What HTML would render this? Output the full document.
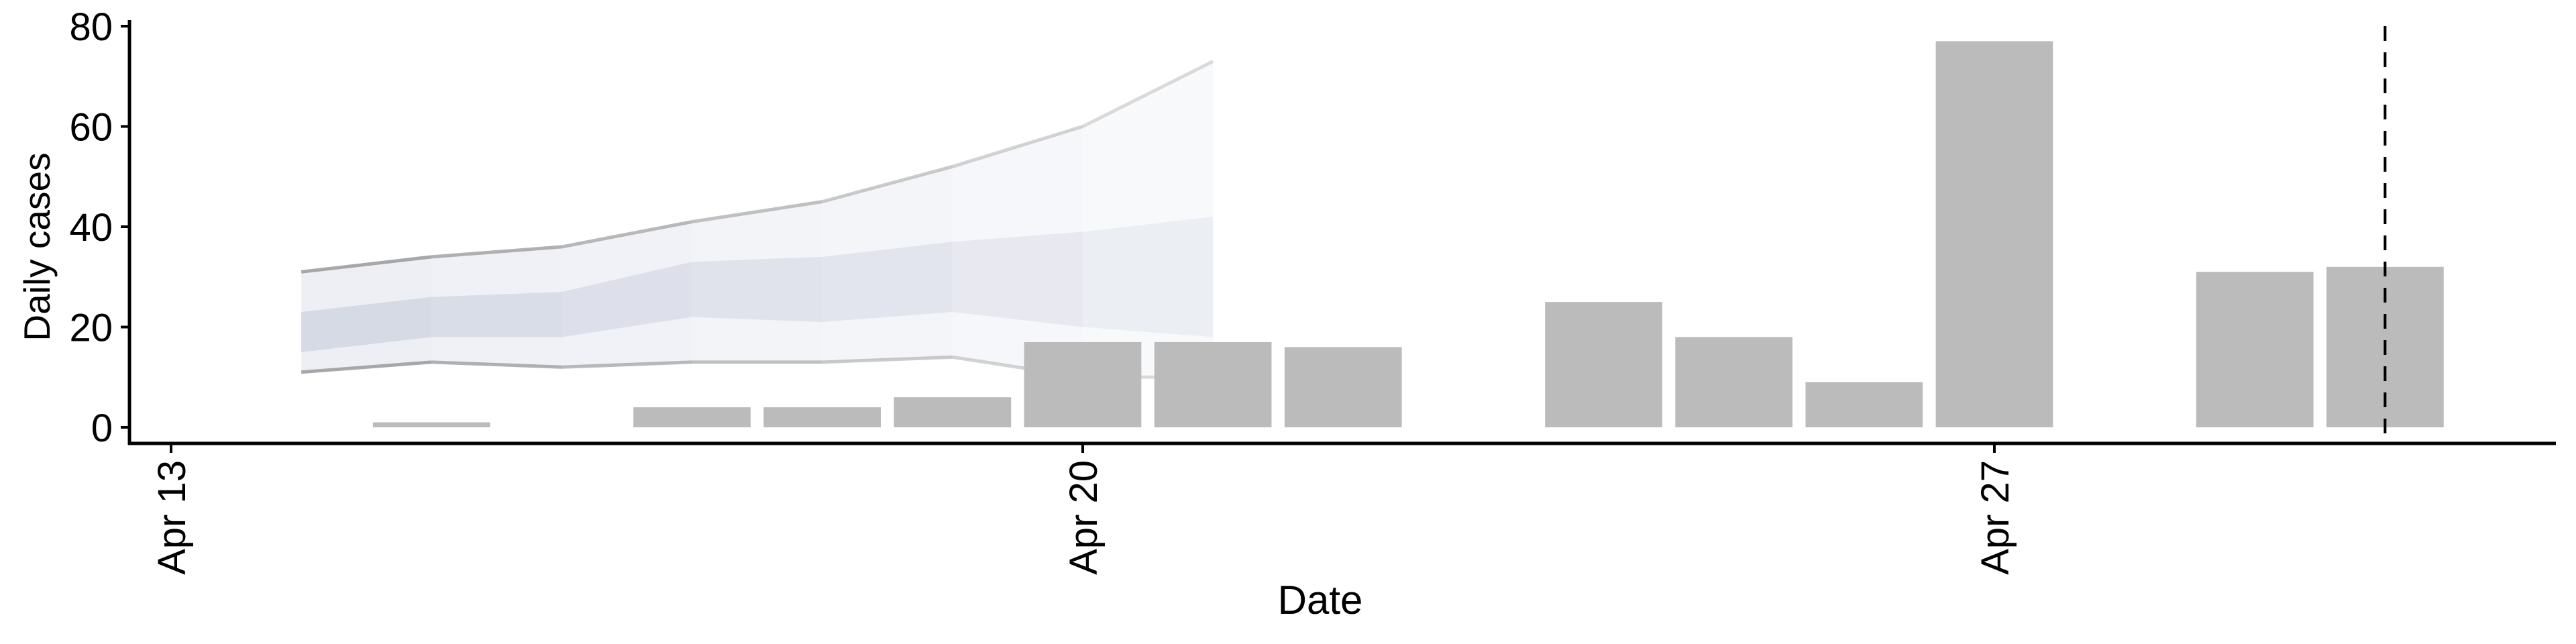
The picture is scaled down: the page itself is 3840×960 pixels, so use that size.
<!DOCTYPE html>
<html><head><meta charset="utf-8"><style>
body{margin:0;background:#fff;}
svg{display:block;font-family:"Liberation Sans",sans-serif;}
</style></head><body>
<svg id="chart" width="3840" height="960" viewBox="0 0 3840 960" xmlns="http://www.w3.org/2000/svg"></svg>
<script>
const barDays = [15,17,18,19,20,21,22,24,25,26,27,29,30];
const barValues = [1,4,4,6,17,17,16,25,18,9,77,31,32];
const bandDays = [14,15,16,17,18,19,20,21];
const outerUpper = [31,34,36,41,45,52,60,73];
const outerLower = [11,13,12,13,13,14,10,10];
const innerUpper = [23,26,27,33,34,37,39,42];
const innerLower = [15,18,18,22,21,23,20,18];
const yTicks = [0,20,40,60,80];
const xTickDays = [13,20,27];
const xTickLabels = ["Apr 13","Apr 20","Apr 27"];
const cutoffDay = 30;

const NS="http://www.w3.org/2000/svg";
const svg=document.getElementById('chart');
const X=d=>255+(d-13)*194.14;
const Y=v=>637-v*7.475;
function mk(t,a,p){const e=document.createElementNS(NS,t);for(const k in a)e.setAttribute(k,a[k]);(p||svg).appendChild(e);return e;}

for(let i=0;i<bandDays.length-1;i++){
  const f=1-i/(bandDays.length-1)*0.7;
  const x0=X(bandDays[i]),x1=X(bandDays[i+1]);
  const o=mk('polygon',{points:`${x0},${Y(outerUpper[i])} ${x1},${Y(outerUpper[i+1])} ${x1},${Y(outerLower[i+1])} ${x0},${Y(outerLower[i])}`,fill:'#dfe2ec','fill-opacity':0.55*f});
  
  
  const n=mk('polygon',{points:`${x0},${Y(innerUpper[i])} ${x1},${Y(innerUpper[i+1])} ${x1},${Y(innerLower[i+1])} ${x0},${Y(innerLower[i])}`,fill:'#c6cbdb','fill-opacity':0.6*f});
  
  
  const lu=mk('line',{x1:x0,y1:Y(outerUpper[i]),x2:x1,y2:Y(outerUpper[i+1]),stroke:'#999','stroke-opacity':0.85*f,'stroke-width':5});
  
  
  const ll=mk('line',{x1:x0,y1:Y(outerLower[i]),x2:x1,y2:Y(outerLower[i+1]),stroke:'#999','stroke-opacity':0.85*f,'stroke-width':5});
  
  
}
const bw=194.14*0.9;
barDays.forEach((d,i)=>{
  const r=mk('rect',{x:X(d)-bw/2,y:Y(barValues[i]),width:bw,height:Y(0)-Y(barValues[i]),fill:'#bbbbbb'});
  
  
});
const dl=mk('line',{x1:X(cutoffDay),y1:39,x2:X(cutoffDay),y2:661,stroke:'#000','stroke-width':4,'stroke-dasharray':'22 17'});


const ya=mk('line',{x1:193,y1:30,x2:193,y2:663,stroke:'#000','stroke-width':5});


const xa=mk('line',{x1:191,y1:661,x2:3810,y2:661,stroke:'#000','stroke-width':5});


yTicks.forEach(v=>{
  mk('line',{x1:180,y1:Y(v),x2:193,y2:Y(v),stroke:'#000','stroke-width':4});
  const t=mk('text',{x:168,y:Y(v)+21,'text-anchor':'end','font-size':58,fill:'#000'});
  t.textContent=v;
  
  
});
xTickDays.forEach((d,i)=>{
  mk('line',{x1:X(d),y1:661,x2:X(d),y2:675,stroke:'#000','stroke-width':4});
  const t=mk('text',{x:0,y:0,'text-anchor':'end','font-size':58,fill:'#000',transform:`translate(${X(d)+21},686) rotate(-90)`});
  t.textContent=xTickLabels[i];
  
  
});
const yt=mk('text',{x:0,y:0,'text-anchor':'middle','font-size':55,fill:'#000',transform:'translate(74,368) rotate(-90)'});
yt.textContent='Daily cases';


const xt=mk('text',{x:1968,y:915,'text-anchor':'middle','font-size':60,fill:'#000'});
xt.textContent='Date';


</script>
</body></html>
